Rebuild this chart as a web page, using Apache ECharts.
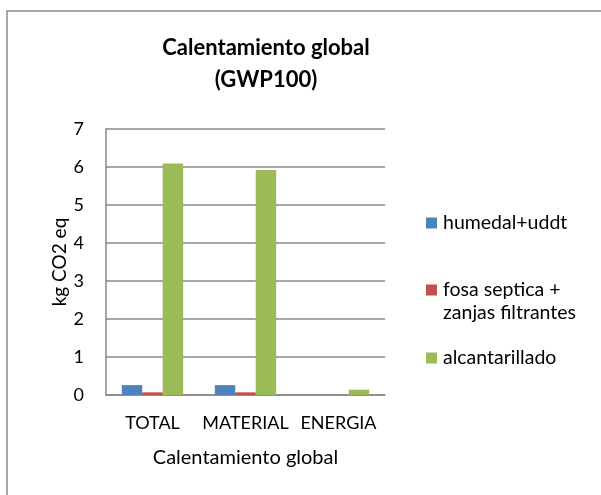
<!DOCTYPE html>
<html>
<head>
<meta charset="utf-8">
<script src="https://cdn.jsdelivr.net/npm/echarts@6/dist/echarts.min.js"></script>
<style>html,body{margin:0;padding:0;background:#fff;}#c{width:601px;height:495px;}</style>
</head>
<body>
<div id="c"></div>
<script>
const categories = ['TOTAL', 'MATERIAL', 'ENERGIA'];
const seriesNames = ['humedal+uddt', 'fosa septica + zanjas filtrantes', 'alcantarillado'];
const humedal = [0.26, 0.26, 0];
const fosa = [0.07, 0.07, 0];
const alcantarillado = [6.09, 5.92, 0.14];
const yTicks = [0, 1, 2, 3, 4, 5, 6, 7];

const FONT = 'Lato, "Open Sans", sans-serif';
const colors = ['#4F81BD', '#C0504D', '#9BBB59'];
const chart = echarts.init(document.getElementById('c'), null, {renderer: 'canvas'});

function legendAt(name, top, label) {
  return {
    data: [name], left: 426, top: top, padding: 0, itemWidth: 11, itemHeight: 11,
    itemGap: 0, icon: 'rect', selectedMode: false,
    formatter: label ? () => label : undefined,
    textStyle: {fontFamily: FONT, fontSize: 19.5, color: '#000', padding: [0, 0, 0, 1]}
  };
}

chart.setOption({
  animation: false,
  color: colors,
  title: {
    text: 'Calentamiento global\n(GWP100)',
    left: 266, textAlign: 'center', top: 32, padding: 0,
    textStyle: {fontFamily: FONT, fontWeight: 'bold', fontSize: 22, lineHeight: 32, color: '#000'}
  },
  legend: [
    legendAt(seriesNames[0], 213),
    legendAt(seriesNames[1], 280, 'fosa septica +'),
    legendAt(seriesNames[2], 348)
  ],
  graphic: [
    {type: 'rect', shape: {x: 7, y: 11, width: 700, height: 600}, style: {fill: 'none', stroke: '#8a8a8a', lineWidth: 1.5}, silent: true},
    {type: 'text', left: 443, top: 303, style: {text: 'zanjas filtrantes', fontFamily: FONT, fontSize: 19.5, fill: '#000'}, silent: true}
  ],
  grid: {left: 106, right: 216, top: 129, bottom: 100, containLabel: false},
  xAxis: {
    type: 'category', data: categories,
    name: 'Calentamiento global', nameLocation: 'middle', nameGap: 53,
    nameTextStyle: {fontFamily: FONT, fontSize: 20, color: '#000'},
    axisLine: {lineStyle: {color: '#888', width: 1.5}},
    axisTick: {show: false},
    axisLabel: {fontFamily: FONT, fontSize: 18, color: '#000', margin: 19, interval: 0}
  },
  yAxis: {
    type: 'value', min: 0, max: 7, interval: 1,
    name: 'kg CO2 eq', nameLocation: 'middle', nameGap: 19,
    nameTextStyle: {fontFamily: FONT, fontSize: 19, color: '#000'},
    axisLine: {show: true, lineStyle: {color: '#888', width: 1.5}},
    axisTick: {show: false},
    splitLine: {lineStyle: {color: '#888', width: 1.5}},
    axisLabel: {fontFamily: FONT, fontSize: 18, color: '#000', margin: 22,
      formatter: v => yTicks.includes(v) ? String(v) : ''}
  },
  series: [
    {name: seriesNames[0], type: 'bar', data: humedal, barGap: '0%', barCategoryGap: '34%'},
    {name: seriesNames[1], type: 'bar', data: fosa, barGap: '0%', barCategoryGap: '34%'},
    {name: seriesNames[2], type: 'bar', data: alcantarillado, barGap: '0%', barCategoryGap: '34%'}
  ]
});
</script>
</body>
</html>
